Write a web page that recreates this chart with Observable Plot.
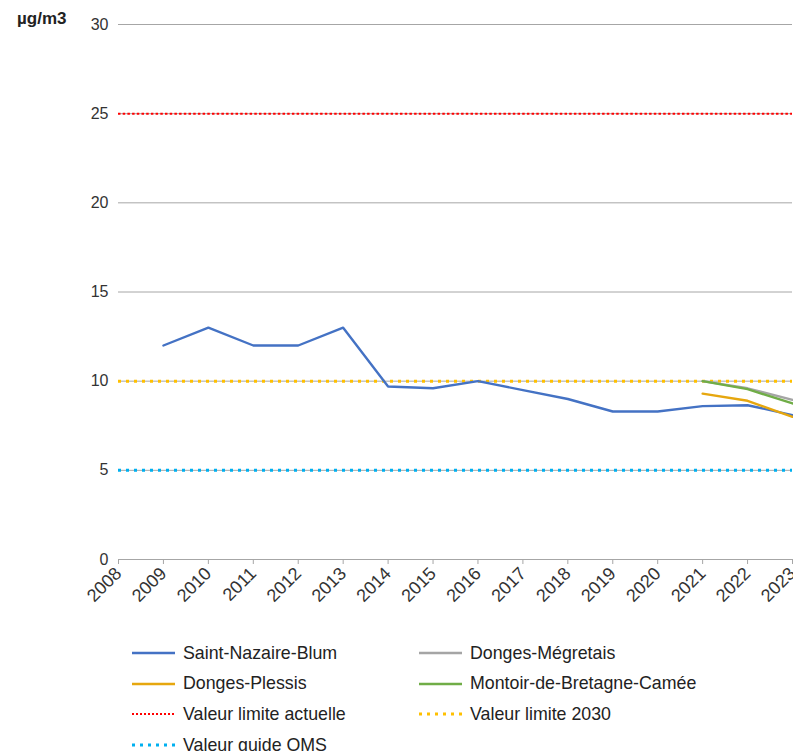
<!DOCTYPE html>
<html>
<head>
<meta charset="utf-8">
<script src="https://cdn.jsdelivr.net/npm/d3@7"></script>
<script src="https://cdn.jsdelivr.net/npm/@observablehq/plot@0.6"></script>
<style>
  body { margin: 0; background: #fff; font-family: "Liberation Sans", Arial, sans-serif; }
  #wrap { position: relative; width: 793px; overflow: hidden; }
  #unit { position: absolute; left: 17px; top: 9px; font-size: 17px; font-weight: bold; color: #222; }
  #legend { display: grid; grid-template-columns: 287px 300px; margin-left: 130px; margin-top: 28px; row-gap: 10.7px; font-size: 17.8px; color: #222; }
  .item { display: flex; align-items: center; height: 20px; }
  .item svg { margin-right: 6px; }
</style>
</head>
<body>
<div id="wrap"><div id="unit">µg/m3</div></div>
<script>
const years = [2008, 2009, 2010, 2011, 2012, 2013, 2014, 2015, 2016, 2017, 2018, 2019, 2020, 2021, 2022, 2023];
const blum      = [null, 12, 13, 12, 12, 13, 9.7, 9.6, 10, 9.5, 9.0, 8.3, 8.3, 8.6, 8.65, 8.1];
const megretais = [null, null, null, null, null, null, null, null, null, null, null, null, null, 10, 9.6, 8.95];
const plessis   = [null, null, null, null, null, null, null, null, null, null, null, null, null, 9.3, 8.9, 8.0];
const montoir   = [null, null, null, null, null, null, null, null, null, null, null, null, null, 10, 9.55, 8.75];
const seriesNames = ["Saint-Nazaire-Blum", "Donges-Mégretais", "Donges-Plessis", "Montoir-de-Bretagne-Camée"];
const seriesColors = ["#4472C4", "#A5A5A5", "#E6A70F", "#70AD47"];
const seriesValues = [blum, megretais, plessis, montoir];
const refNames = ["Valeur limite actuelle", "Valeur limite 2030", "Valeur guide OMS"];
const refValues = [25, 10, 5];
const refColors = ["#FF0000", "#FFC000", "#00B0F0"];
const yTicks = [0, 5, 10, 15, 20, 25, 30];

const rows = [];
seriesValues.forEach((vals, s) => {
  vals.forEach((v, i) => { if (v != null) rows.push({ series: seriesNames[s], year: years[i], value: v }); });
});
const refs = refNames.map((n, i) => ({ name: n, value: refValues[i], color: refColors[i] }));

const chart = Plot.plot({
  width: 793,
  height: 615,
  marginLeft: 118,
  marginRight: 1,
  marginTop: 24,
  marginBottom: 56,
  style: { fontFamily: "Liberation Sans, Arial, sans-serif", fontSize: "16px", color: "#333", overflow: "visible" },
  x: { domain: [2008, 2023] },
  y: { domain: [0, 30] },
  color: { domain: seriesNames, range: seriesColors },
  marks: [
    Plot.ruleY(yTicks.filter(d => d > 0), { stroke: "#A6A6A6", strokeWidth: 1 }),
    Plot.axisY({ ticks: yTicks, tickSize: 0, tickPadding: 10, label: null, fontSize: 16 }),
    Plot.axisX({ ticks: years, tickFormat: d => String(d), tickRotate: -45, tickSize: 5, tickPadding: 6, label: null, stroke: "#A6A6A6", fontSize: 18 }),
    Plot.ruleY([0], { stroke: "#A6A6A6", strokeWidth: 1 }),
    Plot.ruleY(refs.filter(d => d.value === 25), { y: "value", stroke: "color", strokeWidth: 2, strokeDasharray: "2.5,2.2" }),
    Plot.ruleY(refs.filter(d => d.value !== 25), { y: "value", stroke: "color", strokeWidth: 3, strokeDasharray: "3,5" }),
    Plot.line(rows, { x: "year", y: "value", z: "series", stroke: "series", strokeWidth: 2.4 })
  ]
});
document.getElementById("wrap").prepend(chart);

const legend = document.createElement("div");
legend.id = "legend";
const items = [
  { name: seriesNames[0], color: seriesColors[0], type: "solid" },
  { name: seriesNames[1], color: seriesColors[1], type: "solid" },
  { name: seriesNames[2], color: seriesColors[2], type: "solid" },
  { name: seriesNames[3], color: seriesColors[3], type: "solid" },
  { name: refNames[0], color: refColors[0], type: "fine" },
  { name: refNames[1], color: refColors[1], type: "dot" },
  { name: refNames[2], color: refColors[2], type: "dot" }
];
items.forEach(it => {
  const d = document.createElement("div");
  d.className = "item";
  let dash = "", sw = 2.5;
  if (it.type === "fine") { dash = 'stroke-dasharray="2,2"'; sw = 2; }
  if (it.type === "dot") { dash = 'stroke-dasharray="3,5"'; sw = 3; }
  d.innerHTML = `<svg width="47" height="10"><line x1="2" x2="45" y1="5" y2="5" stroke="${it.color}" stroke-width="${sw}" ${dash}/></svg><span>${it.name}</span>`;
  legend.appendChild(d);
});
document.getElementById("wrap").appendChild(legend);
</script>
</body>
</html>
